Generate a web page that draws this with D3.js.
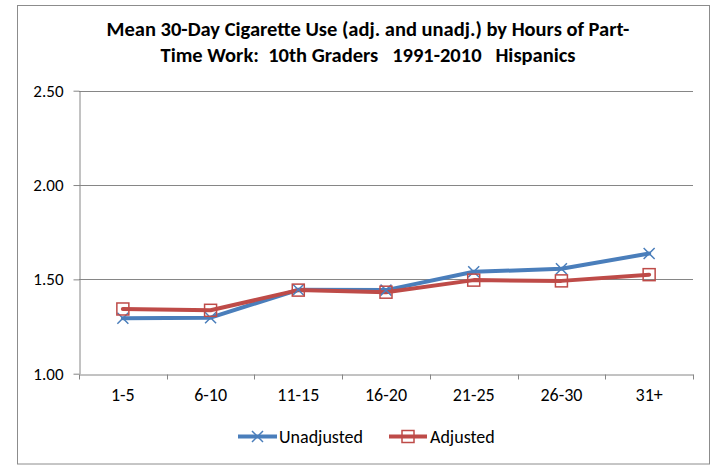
<!DOCTYPE html>
<html><head><meta charset="utf-8">
<script src="https://cdn.jsdelivr.net/npm/d3@7"></script>
<style>body{margin:0;background:#fff}svg{display:block}text{font-family:Carlito,Lato,"Liberation Sans",sans-serif;white-space:pre}</style>
</head><body>
<script>
const categories = ["1-5","6-10","11-15","16-20","21-25","26-30","31+"];
const unadjusted = [1.294,1.297,1.445,1.443,1.540,1.556,1.637];
const adjusted = [1.343,1.336,1.443,1.432,1.496,1.492,1.525];
const yTicks = [1.00,1.50,2.00,2.50];
const titleLines = ["Mean 30-Day Cigarette Use (adj. and unadj.) by Hours of Part-","Time Work:  10th Graders   1991-2010   Hispanics"];
const seriesNames = ["Unadjusted","Adjusted"];
const colors = ["#4A7EBB","#BE4B48"];

const W=710,H=465;
const svg=d3.select("body").append("svg").attr("width",W).attr("height",H);
svg.append("rect").attr("x",17.5).attr("y",5.5).attr("width",W-18).attr("height",458.5).attr("fill","#fff").attr("stroke","#8c8c8c").attr("stroke-width",1);

const L=79,R=693,T=90.7,B=373.7;
const x=d3.scaleBand().domain(categories).range([L,R]);
const y=d3.scaleLinear().domain([1,2.5]).range([B,T]);
const FS=17, FX=18;

// title
const tt=svg.append("text").attr("text-anchor","middle").attr("font-weight","bold").attr("font-size",20.5).attr("fill","#000");
titleLines.forEach((t,i)=>tt.append("tspan").attr("x",368).attr("y",36+i*26).text(t));

// gridlines
svg.append("g").selectAll("line").data(yTicks.filter(d=>d>1)).join("line")
 .attr("x1",L).attr("x2",R).attr("y1",d=>Math.round(y(d))+0.5).attr("y2",d=>Math.round(y(d))+0.5)
 .attr("stroke","#868686").attr("stroke-width",1);

// y axis
const ya=svg.append("g").attr("transform",`translate(${L+0.5},0)`)
 .call(d3.axisLeft(y).tickValues(yTicks).tickFormat(d3.format(".2f")).tickSize(6).tickSizeOuter(0).tickPadding(10));
ya.attr("font-size",null).attr("font-family",null);
ya.select(".domain").attr("stroke","#868686");
ya.selectAll(".tick line").attr("stroke","#868686");
ya.selectAll(".tick text").attr("font-size",FS).attr("fill","#000");

// x axis
const xa=svg.append("g").attr("transform",`translate(0,${Math.round(B)+0.5})`)
 .call(d3.axisBottom(x).tickSize(0).tickSizeOuter(0).tickPadding(14));
xa.attr("font-size",null).attr("font-family",null);
xa.select(".domain").attr("stroke","#868686");
xa.selectAll(".tick text").attr("font-size",FX).attr("fill","#000");
const bounds=[...categories.map(c=>x(c)),R];
xa.selectAll(".bt").data(bounds).join("line").attr("class","bt")
 .attr("x1",d=>Math.round(d)+0.5).attr("x2",d=>Math.round(d)+0.5).attr("y1",0).attr("y2",5).attr("stroke","#868686");

const cx=c=>x(c)+x.bandwidth()/2;
const line=d3.line().x((d,i)=>cx(categories[i])).y(d=>y(d));
const data=[unadjusted,adjusted];
data.forEach((s,k)=>{
  svg.append("path").datum(s).attr("d",line).attr("fill","none").attr("stroke",colors[k]).attr("stroke-width",4).attr("stroke-linejoin","round").attr("stroke-linecap","round");
});
function xMarker(g,cx0,cy0,col){
  const r=5.5;
  g.append("path").attr("d",`M${cx0-r},${cy0-r}L${cx0+r},${cy0+r}M${cx0-r},${cy0+r}L${cx0+r},${cy0-r}`).attr("stroke",col).attr("stroke-width",1.5).attr("fill","none");
}
function sqMarker(g,cx0,cy0,col){
  const r=6;
  g.append("rect").attr("x",cx0-r).attr("y",cy0-r).attr("width",2*r).attr("height",2*r).attr("fill","none").attr("stroke",col).attr("stroke-width",1.5);
}
const mg=svg.append("g");
unadjusted.forEach((v,i)=>xMarker(mg,cx(categories[i]),y(v),colors[0]));
adjusted.forEach((v,i)=>sqMarker(mg,cx(categories[i]),y(v),colors[1]));

// legend
const ly=436.5;
const leg=[{x0:238,x1:277,tx:279},{x0:389,x1:427,tx:430}];
leg.forEach((l,k)=>{
  svg.append("line").attr("x1",l.x0).attr("x2",l.x1).attr("y1",ly).attr("y2",ly).attr("stroke",colors[k]).attr("stroke-width",4);
  const m=(l.x0+l.x1)/2;
  if(k==0) xMarker(svg,m,ly,colors[0]); else sqMarker(svg,m,ly,colors[1]);
  svg.append("text").attr("x",l.tx).attr("y",ly).attr("dy","0.35em").attr("font-size",FX).attr("fill","#000").text(seriesNames[k]);
});
</script>
</body></html>
